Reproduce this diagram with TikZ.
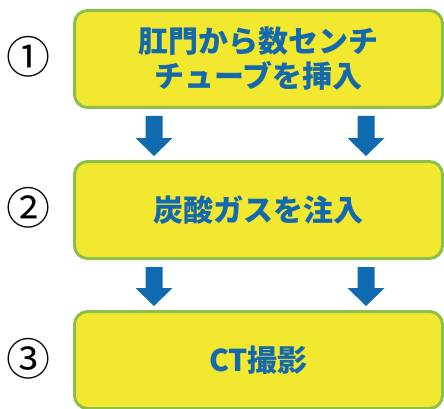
\documentclass[tikz,border=0pt]{standalone}
\usepackage{fontspec}
\usetikzlibrary{calc}
\newfontfamily\jpfont{Noto Sans CJK JP}
\newfontfamily\jpbold{Noto Sans CJK JP Black}
\definecolor{boxfill}{HTML}{F2E830}
\definecolor{boxline}{HTML}{8DBF4A}
\definecolor{txtblue}{HTML}{1468AE}
\definecolor{arrblue}{HTML}{0F6AAF}
\tikzset{
  stepbox/.style={draw=boxline, fill=boxfill, line width=3pt, rounded corners=13pt,
    minimum width=368pt, minimum height=97pt, inner sep=0pt, align=center,
    text=txtblue, font=\jpbold\fontsize{30}{35}\selectfont},
  num/.style={font=\jpfont\fontsize{44}{44}\selectfont, inner sep=0pt, text=black},
  arr/.style={fill=arrblue}
}
\begin{document}
\begin{tikzpicture}[x=1pt,y=-1pt]
\useasboundingbox (0,0) rectangle (444,409);
\node[stepbox] (b1) at (258.5,59) {肛門から数センチ\\チューブを挿入};
\node[stepbox] (b2) at (258.5,210) {炭酸ガスを注入};
\node[stepbox] (b3) at (258.5,360) {CT撮影};
\node[num] (n1) at (28,57) {①};
\node[num] (n2) at (28,208) {②};
\node[num] (n3) at (28,359) {③};
\foreach \a/\b in {b1/b2,b2/b3}{
  \foreach \dx in {-104.5,107.5}{
    \path ($(\a.south)+(\dx,7)$) coordinate (s) ($(\b.north)+(\dx,-4)$) coordinate (t);
    \fill[arr] ($(s)+(-8.5,0)$) -- ($(s)+(8.5,0)$) -- ($(t)+(8.5,-18)$) -- ($(t)+(18.5,-18)$) -- (t)
      -- ($(t)+(-18.5,-18)$) -- ($(t)+(-8.5,-18)$) -- cycle;
  }
}
\end{tikzpicture}
\end{document}
